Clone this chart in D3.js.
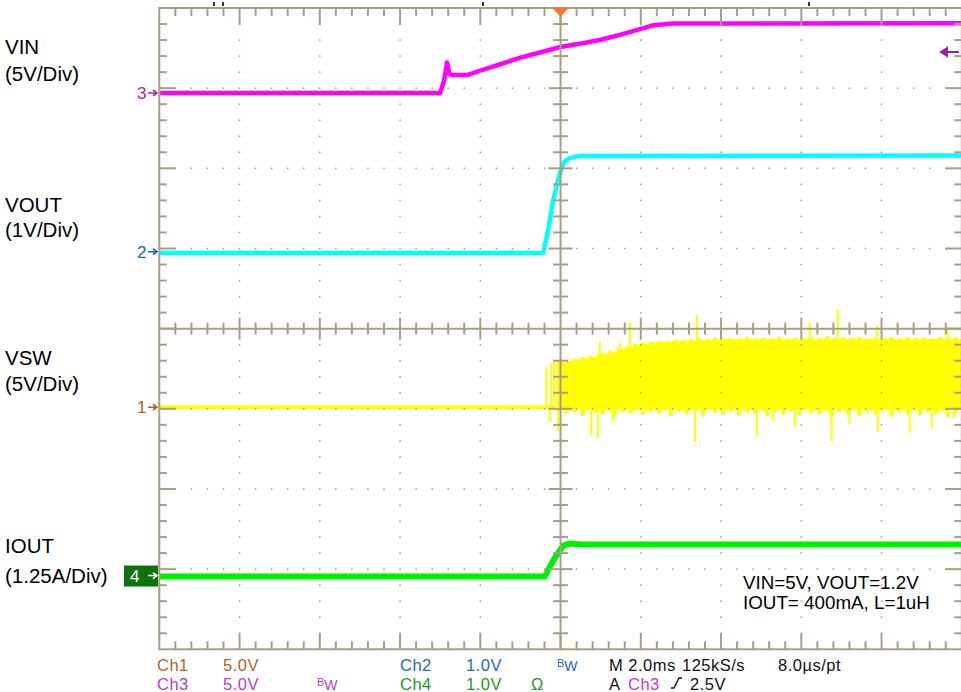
<!DOCTYPE html>
<html><head><meta charset="utf-8">
<script src="https://cdn.jsdelivr.net/npm/d3@7"></script>
<style>
html,body{margin:0;padding:0;background:#fff;overflow:hidden;}
svg{display:block;font-family:"Liberation Sans",Arial,sans-serif;}
</style></head><body>
<svg id="c" width="961" height="692"></svg>
<script>
// ---------------- DATA (time in ms, trigger at 0; 2 ms/div) ----------------
const channels = ["VIN", "VOUT", "VSW", "IOUT"];
const channelLabels = ["VIN", "VOUT", "VSW", "IOUT"];
const channelScales = ["(5V/Div)", "(1V/Div)", "(5V/Div)", "(1.25A/Div)"];
const unitsPerDiv = [5, 1, 5, 1.25];
const groundDiv = [2.94, 0.96, -0.98, -3.08];   // ground marker, divisions from centre
const markerText = ["3", "2", "1", "4"];

// VIN (V)
const vinT = [-10, -3.0, -2.9, -2.83, -2.77, -2.71, -2.33, -2.0, -1.0, 0.0, 0.5, 1.0, 1.5, 2.0, 2.3, 2.8, 10];
const vinV = [0, 0, 0.8, 1.9, 1.2, 1.12, 1.12, 1.39, 2.2, 2.87, 3.08, 3.32, 3.64, 4.0, 4.22, 4.33, 4.35];

// VOUT (V)
const voutT = [-10, -0.43, -0.31, -0.18, -0.06, 0.03, 0.11, 0.24, 0.48, 10];
const voutV = [-0.015, -0.015, 0.27, 0.65, 0.9, 1.05, 1.13, 1.17, 1.195, 1.2];

// IOUT (A)
const ioutT = [-10, -0.39, -0.26, -0.14, -0.03, 0.07, 0.24, 0.5, 10];
const ioutA = [-0.015, -0.015, 0.145, 0.276, 0.38, 0.468, 0.5, 0.483, 0.485];

// VSW (V): idle before switching, then envelope of the switching band
const vswIdleT = [-10, -0.12];
const vswIdleV = [0, 0];
const vswStart = -0.1, vswStep = 0.1;
const vswUpper = [2.90,2.80,2.95,2.88,3.02,2.98,3.12,3.05,3.20,3.15,
  3.30,3.38,3.32,3.50,3.45,3.68,3.62,3.80,3.75,3.95,
  3.88,4.05,3.98,4.10,4.02,4.12,4.05,4.15,4.08,4.18,
  4.10,4.20,4.12,4.25,4.15,4.30,4.18,4.26,4.22,4.35,
  4.20,4.28,4.24,4.32,4.22,4.30,4.26,4.38,4.24,4.30,
  4.25,4.33,4.22,4.30,4.27,4.40,4.24,4.31,4.26,4.34,
  4.23,4.30,4.28,4.36,4.24,4.31,4.26,4.42,4.25,4.30,
  4.27,4.35,4.23,4.31,4.28,4.38,4.24,4.30,4.26,4.34,
  4.25,4.31,4.27,4.40,4.23,4.30,4.28,4.36,4.24,4.31,
  4.26,4.34,4.25,4.30,4.28,4.38,4.24,4.31,4.27,4.35,
  4.26,4.30];
const vswLower = [-0.25,-0.14,-0.40,-0.16,-0.30,-0.14,-0.55,-0.18,-0.14,-0.35,
  -0.16,-0.45,-0.14,-0.22,-0.60,-0.15,-0.30,-0.14,-0.40,-0.18,
  -0.14,-0.50,-0.16,-0.28,-0.14,-0.38,-0.17,-0.14,-0.55,-0.15,
  -0.30,-0.14,-0.42,-0.16,-0.25,-0.14,-0.60,-0.18,-0.14,-0.33,
  -0.15,-0.48,-0.14,-0.26,-0.16,-0.52,-0.14,-0.30,-0.17,-0.40,
  -0.14,-0.22,-0.58,-0.15,-0.30,-0.14,-0.45,-0.16,-0.24,-0.14,
  -0.50,-0.18,-0.14,-0.36,-0.15,-0.44,-0.14,-0.27,-0.62,-0.16,
  -0.30,-0.14,-0.40,-0.17,-0.14,-0.55,-0.15,-0.28,-0.14,-0.46,
  -0.16,-0.25,-0.14,-0.58,-0.17,-0.32,-0.14,-0.40,-0.15,-0.22,
  -0.50,-0.14,-0.30,-0.16,-0.44,-0.14,-0.26,-0.60,-0.15,-0.34,
  -0.14,-0.20];
const vswSpikeUpT = [-0.36, -0.24, -0.16, 0.98, 1.48, 1.73, 3.4, 6.21, 6.91, 7.88, 9.65];
const vswSpikeUpV = [2.51, 2.72, 2.80, 4.07, 3.99, 5.32, 5.74, 5.30, 6.11, 5.11, 4.86];
const vswSpikeDnT = [-0.26, -0.06, 0.76, 0.93, 1.3, 3.35, 4.89, 5.3, 5.84, 6.76, 7.2, 7.91, 8.7, 9.25, 9.8];
const vswSpikeDnV = [-0.92, -1.54, -1.75, -1.93, -0.9, -2.16, -1.85, -0.81, -1.23, -2.16, -1.02, -1.54, -1.6, -1.33, -0.69];

// status-bar text
const row1 = [["Ch1","#b0651e",157],["5.0V","#b0651e",223],["Ch2","#2566c8",400],["1.0V","#2566c8",466],["M 2.0ms","#111",609],["125kS/s","#111",682],["8.0µs/pt","#111",778]];
const row2 = [["Ch3","#c03cc0",157],["5.0V","#c03cc0",223],["Ch4","#219a21",400],["1.0V","#219a21",466],["Ω","#219a21",531],["A","#111",609],["Ch3","#c03cc0",628],["2.5V","#111",690]];
const note = ["VIN=5V, VOUT=1.2V", "IOUT= 400mA, L=1uH"];

// ---------------- CHART ----------------
const svg = d3.select("#c");
const L = 159.3, R = 961.8, T = 8, B = 649.3;
const x = d3.scaleLinear().domain([-10, 10]).range([L, R]);
const xDiv = d3.scaleLinear().domain([0, 10]).range([L, R]);
const yDiv = d3.scaleLinear().domain([-4, 4]).range([B, T]);
const yCh = (ci, v) => yDiv(groundDiv[ci] + v / unitsPerDiv[ci]);
const grid = "#a89f82";

const traceColors = ["#ff00ff", "#00ffff", "#ffff00", "#00ee00"];

// traces
const gT = svg.append("g");
function trace(ci, ts, vs, w) {
  const pts = ts.map((t, i) => [t, vs[i]]);
  gT.append("path").datum(pts)
    .attr("d", d3.line().x(d => x(d[0])).y(d => yCh(ci, d[1])))
    .attr("fill", "none").attr("stroke", traceColors[ci])
    .attr("stroke-width", w).attr("stroke-linejoin", "round");
}
trace(0, vinT, vinV, 4.5);
trace(1, voutT, voutV, 4.5);
trace(3, ioutT, ioutA, 6);
trace(2, vswIdleT, vswIdleV, 4);

// VSW band
const band = vswUpper.map((u, i) => ({t: vswStart + i * vswStep, u, l: vswLower[i]}));
gT.append("path").datum(band)
  .attr("d", d3.area().curve(d3.curveStepAfter).x(d => x(d.t)).y0(d => yCh(2, d.l)).y1(d => yCh(2, d.u)))
  .attr("fill", traceColors[2]);
gT.selectAll(".su").data(vswSpikeUpT.map((t, i) => [t, vswSpikeUpV[i]])).enter().append("line")
  .attr("x1", d => x(d[0])).attr("x2", d => x(d[0]))
  .attr("y1", d => yCh(2, d[0] < 0 ? 0 : 3)).attr("y2", d => yCh(2, d[1]))
  .attr("stroke", traceColors[2]).attr("stroke-width", 2);
gT.selectAll(".sd").data(vswSpikeDnT.map((t, i) => [t, vswSpikeDnV[i]])).enter().append("line")
  .attr("x1", d => x(d[0])).attr("x2", d => x(d[0]))
  .attr("y1", d => yCh(2, 0)).attr("y2", d => yCh(2, d[1]))
  .attr("stroke", traceColors[2]).attr("stroke-width", 2);

// graticule (drawn over traces)
const gG = svg.append("g");
const minor = d3.range(0, 10.001, 0.2).map(v => +v.toFixed(1));
const minorY = d3.range(-4, 4.001, 0.2).map(v => +v.toFixed(1));
for (let i = 1; i <= 9; i++) {
  if (i === 5) continue;
  minorY.forEach(v => { if (Math.abs(v) < 4) gG.append("rect").attr("x", xDiv(i) - 0.75).attr("y", yDiv(v) - 0.75).attr("width", 1.5).attr("height", 1.5).attr("fill", "#9d9d8e"); });
}
for (let j = -3; j <= 3; j++) {
  if (j === 0) continue;
  minor.forEach(v => { if (v > 0 && v < 10 && Math.abs(v - Math.round(v)) > 0.01) gG.append("rect").attr("x", xDiv(v) - 0.75).attr("y", yDiv(j) - 0.75).attr("width", 1.5).attr("height", 1.5).attr("fill", "#9d9d8e"); });
}
const ln = (x1, y1, x2, y2, w) => gG.append("line").attr("x1", x1).attr("y1", y1).attr("x2", x2).attr("y2", y2).attr("stroke", grid).attr("stroke-width", w || 2);
gG.append("rect").attr("x", L).attr("y", T).attr("width", R - L).attr("height", B - T).attr("fill", "none").attr("stroke", grid).attr("stroke-width", 2);
ln(xDiv(5), T, xDiv(5), B); ln(L, yDiv(0), R, yDiv(0));
minor.forEach(v => {
  if (v <= 0 || v >= 10) return;
  const maj = Math.abs(v - Math.round(v)) < 0.01;
  const X = xDiv(v);
  ln(X, T, X, T + (maj ? 17 : 8)); ln(X, B, X, B - (maj ? 16 : 8));
  if (Math.abs(v - 5) > 0.01) ln(X, yDiv(0) - (maj ? 11 : 6), X, yDiv(0) + (maj ? 11 : 6));
});
minorY.forEach(v => {
  if (Math.abs(v) >= 4) return;
  const maj = Math.abs(v - Math.round(v)) < 0.01;
  const Y = yDiv(v);
  ln(L, Y, L + (maj ? 16 : 7.5), Y); ln(R, Y, R - (maj ? 16 : 7.5), Y);
  if (Math.abs(v) > 0.01) ln(xDiv(5) - (maj ? 12 : 7.5), Y, xDiv(5) + (maj ? 12 : 7.5), Y);
});

// trigger position & level indicators
svg.append("path").attr("d", `M${xDiv(5) - 8},${T} L${xDiv(5) + 8},${T} L${xDiv(5)},${T + 9} Z`).attr("fill", "#f7782a");
svg.append("path").attr("d", "M941,52 L947,48 L947,56 Z M945,52 L959,52").attr("stroke", "#a020a0").attr("stroke-width", 2).attr("fill", "#a020a0");
[[214], [223], [483], [809]].forEach(d => svg.append("rect").attr("x", d[0] - 1).attr("y", 2).attr("width", 2).attr("height", 4).attr("fill", "#333"));

// channel ground markers
const markerCol = ["#b020b0", "#2060c0", "#b06020", "#ffffff"];
channels.forEach((c, ci) => {
  const Y = yCh(ci, 0);
  if (ci === 3) svg.append("rect").attr("x", 124).attr("y", Y - 10).attr("width", 34).attr("height", 21).attr("fill", "#0d730d");
  svg.append("text").attr("x", ci === 3 ? 130 : 137).attr("y", Y + 6).attr("font-size", 17).attr("fill", markerCol[ci]).text(markerText[ci]);
  svg.append("path").attr("d", `M148,${Y} L157,${Y} M153,${Y - 3} L157,${Y} L153,${Y + 3}`).attr("stroke", markerCol[ci]).attr("stroke-width", 1.6).attr("fill", "none");
});

// left labels
const labY = [[54, 81], [212, 237], [365, 391], [553, 583]];
channels.forEach((c, ci) => {
  svg.append("text").attr("x", 5).attr("y", labY[ci][0]).attr("font-size", 20.5).text(channelLabels[ci]);
  svg.append("text").attr("x", 5).attr("y", labY[ci][1]).attr("font-size", 20.5).text(channelScales[ci]);
});

// status bar
row1.forEach(d => svg.append("text").attr("x", d[2]).attr("y", 671).attr("font-size", 16.5).attr("letter-spacing", 0.5).attr("fill", d[1]).text(d[0]));
row2.forEach(d => svg.append("text").attr("x", d[2]).attr("y", 690).attr("font-size", 16.5).attr("letter-spacing", 0.5).attr("fill", d[1]).text(d[0]));
function bw(xp, yp, col) {
  const t = svg.append("text").attr("x", xp).attr("y", yp).attr("fill", col);
  t.append("tspan").attr("font-size", 11).attr("dy", -4).text("B");
  t.append("tspan").attr("font-size", 14).attr("dy", 4).text("W");
}
bw(557, 671, "#2566c8"); bw(317, 690, "#c03cc0");
svg.append("path").attr("d", "M671,688 L674,688 L679,678 L682,678").attr("stroke", "#111").attr("stroke-width", 1.4).attr("fill", "none");

// annotation
note.forEach((n, i) => svg.append("text").attr("x", 743).attr("y", 589 + i * 19.5).attr("font-size", 18.8).text(n));
</script>
</body></html>
